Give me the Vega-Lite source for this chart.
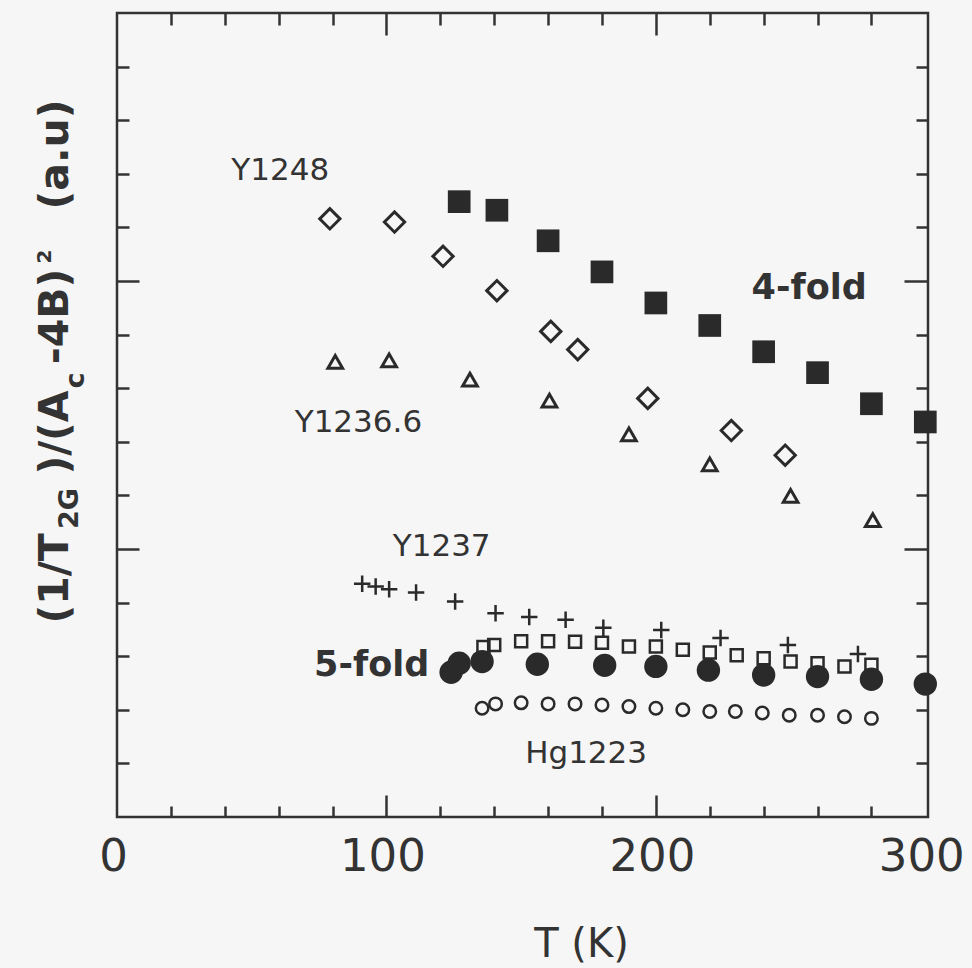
{
  "$schema": "https://vega.github.io/schema/vega-lite/v6.json",
  "width": 811,
  "height": 804,
  "autosize": {"type": "none"},
  "padding": {"left": 117, "top": 13, "right": 44, "bottom": 151},
  "background": "#f6f6f6",
  "config": {
    "view": {"stroke": "#333333", "strokeWidth": 2.5},
    "axis": {"grid": false, "domain": false, "tickColor": "#333333", "tickWidth": 2.5, "labelColor": "#333333", "titleColor": "#333333"}
  },
  "datasets": {
    "fourfold": [
      {"T": 127, "v": 11.48}, {"T": 141, "v": 11.32}, {"T": 160, "v": 10.75}, {"T": 180, "v": 10.17},
      {"T": 200, "v": 9.59}, {"T": 220, "v": 9.17}, {"T": 240, "v": 8.68}, {"T": 260, "v": 8.29},
      {"T": 280, "v": 7.71}, {"T": 300, "v": 7.37}
    ],
    "y1248": [
      {"T": 79, "v": 11.16}, {"T": 103, "v": 11.10}, {"T": 121, "v": 10.46}, {"T": 141, "v": 9.82},
      {"T": 161, "v": 9.06}, {"T": 171, "v": 8.72}, {"T": 197, "v": 7.81}, {"T": 228, "v": 7.21},
      {"T": 248, "v": 6.75}
    ],
    "y12366": [
      {"T": 81, "v": 8.49}, {"T": 101, "v": 8.52}, {"T": 131, "v": 8.16}, {"T": 160.5, "v": 7.77},
      {"T": 190, "v": 7.14}, {"T": 220, "v": 6.58}, {"T": 250, "v": 5.99}, {"T": 280.5, "v": 5.54}
    ],
    "y1237": [
      {"T": 91, "v": 4.35}, {"T": 96, "v": 4.30}, {"T": 101, "v": 4.25}, {"T": 111, "v": 4.19},
      {"T": 125.5, "v": 4.02}, {"T": 140.5, "v": 3.80}, {"T": 153, "v": 3.73}, {"T": 166.5, "v": 3.68},
      {"T": 180.5, "v": 3.53}, {"T": 202, "v": 3.49}, {"T": 224, "v": 3.34}, {"T": 249, "v": 3.21},
      {"T": 275, "v": 3.04}
    ],
    "opensq": [
      {"T": 136, "v": 3.17}, {"T": 140, "v": 3.21}, {"T": 150, "v": 3.28}, {"T": 160, "v": 3.28},
      {"T": 170, "v": 3.27}, {"T": 180, "v": 3.25}, {"T": 190, "v": 3.18}, {"T": 200, "v": 3.18},
      {"T": 210, "v": 3.12}, {"T": 220, "v": 3.07}, {"T": 230, "v": 3.02}, {"T": 240, "v": 2.96},
      {"T": 250, "v": 2.90}, {"T": 260, "v": 2.87}, {"T": 270, "v": 2.81}, {"T": 280, "v": 2.84}
    ],
    "fivefold": [
      {"T": 124, "v": 2.70}, {"T": 127, "v": 2.87}, {"T": 135.5, "v": 2.90}, {"T": 156, "v": 2.85},
      {"T": 181, "v": 2.83}, {"T": 200, "v": 2.81}, {"T": 219.5, "v": 2.74}, {"T": 240, "v": 2.65},
      {"T": 260, "v": 2.62}, {"T": 280, "v": 2.57}, {"T": 300, "v": 2.48}
    ],
    "hg1223": [
      {"T": 135.5, "v": 2.03}, {"T": 140.5, "v": 2.11}, {"T": 150, "v": 2.13}, {"T": 160, "v": 2.11},
      {"T": 170, "v": 2.11}, {"T": 180, "v": 2.09}, {"T": 190, "v": 2.06}, {"T": 200, "v": 2.03},
      {"T": 210, "v": 2.00}, {"T": 220, "v": 1.97}, {"T": 229.5, "v": 1.97}, {"T": 239.5, "v": 1.94},
      {"T": 249.5, "v": 1.90}, {"T": 260, "v": 1.90}, {"T": 270, "v": 1.87}, {"T": 280, "v": 1.84}
    ],
    "labels_reg": [
      {"T": 60.6, "v": 12.05, "label": "Y1248"},
      {"T": 89.6, "v": 7.36, "label": "Y1236.6"},
      {"T": 120.5, "v": 5.03, "label": "Y1237"},
      {"T": 174.1, "v": 1.18, "label": "Hg1223"}
    ],
    "labels_bold": [
      {"T": 256.9, "v": 9.87, "label": "4-fold"},
      {"T": 94.5, "v": 2.84, "label": "5-fold"}
    ]
  },
  "layer": [
    {
      "data": {"name": "fourfold"},
      "mark": {"type": "point", "shape": "square", "filled": true, "size": 515, "color": "#2a2a2a", "opacity": 1},
      "encoding": {
        "x": {"field": "T", "type": "quantitative", "scale": {"domain": [0, 301], "nice": false, "zero": false},
          "axis": {"orient": "bottom", "values": [0, 100, 200, 300], "ticks": false, "tickSize": 0, "labelFont": "DejaVu Sans", "labelFontSize": 45, "labelPadding": 39, "labelBaseline": "middle", "labelFlush": false, "labelOverlap": false, "labelBound": false, "labelOffset": -4, "format": "d",
            "title": "T (K)", "titleFont": "DejaVu Sans", "titleFontSize": 40, "titleFontWeight": "normal", "titleX": 464, "titleY": 127, "titleAlign": "center", "titleBaseline": "middle", "titleAngle": 0}},
        "y": {"field": "v", "type": "quantitative", "scale": {"domain": [0, 15], "nice": false, "zero": false},
          "axis": {"orient": "left", "values": [5, 10], "labels": false, "tickSize": 22, "offset": -22,
            "title": "(1/T", "titleFont": "DejaVu Sans", "titleFontSize": 41, "titleFontWeight": "bold", "titleAngle": -90, "titleX": -84, "titleY": 565, "titleAlign": "center", "titleBaseline": "middle"}}
      }
    },
    {
      "data": {"name": "fivefold"},
      "mark": {"type": "point", "shape": "circle", "filled": true, "size": 545, "color": "#2a2a2a", "opacity": 1},
      "encoding": {
        "x": {"field": "T", "type": "quantitative", "scale": {"domain": [0, 301], "nice": false, "zero": false},
          "axis": {"orient": "bottom", "values": [100, 200], "labels": false, "tickSize": 22, "offset": -22, "title": null}},
        "y": {"field": "v", "type": "quantitative", "scale": {"domain": [0, 15], "nice": false, "zero": false},
          "axis": {"orient": "left", "values": [1, 2, 3, 4, 6, 7, 8, 9, 11, 12, 13, 14], "labels": false, "tickSize": 12, "offset": -12,
            "title": ")/(A", "titleFont": "DejaVu Sans", "titleFontSize": 41, "titleFontWeight": "bold", "titleAngle": -90, "titleX": -74, "titleY": 419, "titleAlign": "center", "titleBaseline": "middle"}}
      }
    },
    {
      "data": {"name": "y1248"},
      "mark": {"type": "point", "shape": "diamond", "filled": false, "size": 412, "strokeWidth": 3, "color": "#2a2a2a", "opacity": 1},
      "encoding": {
        "x": {"field": "T", "type": "quantitative", "scale": {"domain": [0, 301], "nice": false, "zero": false},
          "axis": {"orient": "bottom", "values": [20, 40, 60, 80, 120, 140, 160, 180, 220, 240, 260, 280], "labels": false, "tickSize": 11, "offset": -11, "title": null}},
        "y": {"field": "v", "type": "quantitative", "scale": {"domain": [0, 15], "nice": false, "zero": false},
          "axis": {"orient": "right", "values": [5, 10], "labels": false, "tickSize": 24, "offset": -24,
            "title": "-4B)", "titleFont": "DejaVu Sans", "titleFontSize": 41, "titleFontWeight": "bold", "titleAngle": -90, "titleX": -849, "titleY": 303, "titleAlign": "center", "titleBaseline": "middle"}}
      }
    },
    {
      "data": {"name": "y12366"},
      "mark": {"type": "point", "shape": "triangle-up", "filled": false, "size": 216, "strokeWidth": 3, "color": "#2a2a2a", "opacity": 1},
      "encoding": {
        "x": {"field": "T", "type": "quantitative", "scale": {"domain": [0, 301], "nice": false, "zero": false},
          "axis": {"orient": "top", "values": [100, 200], "labels": false, "tickSize": 22, "offset": -22, "title": null}},
        "y": {"field": "v", "type": "quantitative", "scale": {"domain": [0, 15], "nice": false, "zero": false},
          "axis": {"orient": "right", "values": [1, 2, 3, 4, 6, 7, 8, 9, 11, 12, 13, 14], "labels": false, "tickSize": 12, "offset": -12,
            "title": "(a.u)", "titleFont": "DejaVu Sans", "titleFontSize": 41, "titleFontWeight": "bold", "titleAngle": -90, "titleX": -861, "titleY": 141, "titleAlign": "center", "titleBaseline": "middle"}}
      }
    },
    {
      "data": {"name": "y1237"},
      "mark": {"type": "point", "shape": "M-1,0L1,0M0,-1L0,1", "filled": false, "size": 270, "strokeWidth": 2.5, "color": "#2a2a2a", "opacity": 1},
      "encoding": {
        "x": {"field": "T", "type": "quantitative", "scale": {"domain": [0, 301], "nice": false, "zero": false},
          "axis": {"orient": "top", "values": [20, 40, 60, 80, 120, 140, 160, 180, 220, 240, 260, 280], "labels": false, "tickSize": 12, "offset": -12, "title": null}},
        "y": {"field": "v", "type": "quantitative", "scale": {"domain": [0, 15], "nice": false, "zero": false},
          "axis": {"orient": "left", "ticks": false, "labels": false,
            "title": "2G", "titleFont": "DejaVu Sans", "titleFontSize": 27, "titleFontWeight": "bold", "titleAngle": -90, "titleX": -48, "titleY": 495, "titleAlign": "center", "titleBaseline": "middle"}}
      }
    },
    {
      "data": {"name": "opensq"},
      "mark": {"type": "point", "shape": "square", "filled": false, "size": 144, "strokeWidth": 2.5, "color": "#2a2a2a", "opacity": 1},
      "encoding": {
        "x": {"field": "T", "type": "quantitative", "scale": {"domain": [0, 301], "nice": false, "zero": false}, "axis": null},
        "y": {"field": "v", "type": "quantitative", "scale": {"domain": [0, 15], "nice": false, "zero": false},
          "axis": {"orient": "left", "ticks": false, "labels": false,
            "title": "c", "titleFont": "DejaVu Sans", "titleFontSize": 27, "titleFontWeight": "bold", "titleAngle": -90, "titleX": -42, "titleY": 367, "titleAlign": "center", "titleBaseline": "middle"}}
      }
    },
    {
      "data": {"name": "hg1223"},
      "mark": {"type": "point", "shape": "circle", "filled": false, "size": 156, "strokeWidth": 2.5, "color": "#2a2a2a", "opacity": 1},
      "encoding": {
        "x": {"field": "T", "type": "quantitative", "scale": {"domain": [0, 301], "nice": false, "zero": false}, "axis": null},
        "y": {"field": "v", "type": "quantitative", "scale": {"domain": [0, 15], "nice": false, "zero": false},
          "axis": {"orient": "left", "ticks": false, "labels": false,
            "title": "2", "titleFont": "DejaVu Sans", "titleFontSize": 20, "titleFontWeight": "bold", "titleAngle": -90, "titleX": -73, "titleY": 243, "titleAlign": "center", "titleBaseline": "middle"}}
      }
    },
    {
      "data": {"name": "labels_reg"},
      "mark": {"type": "text", "font": "DejaVu Sans", "fontSize": 31, "align": "center", "baseline": "middle", "color": "#333333"},
      "encoding": {
        "x": {"field": "T", "type": "quantitative", "scale": {"domain": [0, 301], "nice": false, "zero": false}, "axis": null},
        "y": {"field": "v", "type": "quantitative", "scale": {"domain": [0, 15], "nice": false, "zero": false}, "axis": null},
        "text": {"field": "label"}
      }
    },
    {
      "data": {"name": "labels_bold"},
      "mark": {"type": "text", "font": "DejaVu Sans", "fontSize": 35, "fontWeight": "bold", "align": "center", "baseline": "middle", "color": "#333333"},
      "encoding": {
        "x": {"field": "T", "type": "quantitative", "scale": {"domain": [0, 301], "nice": false, "zero": false}, "axis": null},
        "y": {"field": "v", "type": "quantitative", "scale": {"domain": [0, 15], "nice": false, "zero": false}, "axis": null},
        "text": {"field": "label"}
      }
    }
  ],
  "resolve": {"axis": {"x": "independent", "y": "independent"}}
}
